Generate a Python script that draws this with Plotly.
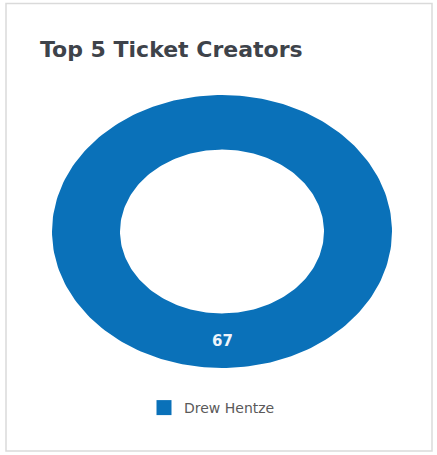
import numpy as np
import plotly.graph_objects as go

# ---- data ----
creators = ["Drew Hentze"]
tickets = [67]
colors = ["#0a71b9"]

W, H = 437, 455
L, R, T, B = 52, 45, 95, 87           # plot area margins (px)
HOLE = 0.6

def px_to_paper_x(px):
    return (px - L) / (W - L - R)

def px_to_paper_y(py):
    return (H - B - py) / (H - T - B)

fig = go.Figure()

total = sum(tickets)
start = 0.0
for name, val, col in zip(creators, tickets, colors):
    frac = val / total
    a0 = np.pi / 2 - 2 * np.pi * start
    a1 = np.pi / 2 - 2 * np.pi * (start + frac)
    th = np.linspace(a0, a1, 241)
    xo, yo = np.cos(th), np.sin(th)
    xi, yi = HOLE * np.cos(th[::-1]), HOLE * np.sin(th[::-1])
    xs = np.concatenate([xo, xi, xo[:1]])
    ys = np.concatenate([yo, yi, yo[:1]])
    fig.add_trace(go.Scatter(x=xs, y=ys, mode="lines", fill="toself",
                             fillcolor=col, line=dict(color=col, width=0),
                             showlegend=False, hoverinfo="skip"))
    mid = np.pi / 2 - 2 * np.pi * (start + frac / 2)
    rmid = (1 + HOLE) / 2
    fig.add_annotation(x=rmid * np.cos(mid), y=rmid * np.sin(mid),
                       text=str(val), showarrow=False,
                       font=dict(family="DejaVu Sans", size=15, color="#eef4fa", weight="bold"))
    fig.add_trace(go.Scatter(x=[None], y=[None], mode="markers", name=name,
                             marker=dict(symbol="square", size=15, color=col)))
    start += frac

fig.add_shape(type="rect", xref="paper", yref="paper",
              x0=px_to_paper_x(6), x1=px_to_paper_x(432),
              y0=px_to_paper_y(451), y1=px_to_paper_y(3.5),
              line=dict(color="#dadada", width=1.5), layer="below")

fig.update_layout(
    width=W, height=H, autosize=False,
    margin=dict(l=L, r=R, t=T, b=B),
    paper_bgcolor="white", plot_bgcolor="white",
    xaxis=dict(range=[-1, 1], visible=False, fixedrange=True),
    yaxis=dict(range=[-1, 1], visible=False, fixedrange=True),
    title=dict(text="Top 5 Ticket Creators", x=40 / W, xanchor="left",
               xref="container", y=1 - 42 / H, yanchor="top", yref="container",
               font=dict(family="DejaVu Sans", size=22, color="#3e434a", weight="bold")),
    legend=dict(orientation="h", x=px_to_paper_x(212), xanchor="center",
                y=px_to_paper_y(408), yanchor="middle",
                font=dict(family="DejaVu Sans", size=14, color="#5a5a5a"),
                itemwidth=30),
    showlegend=True,
)

fig.write_html("out.html", config={"displayModeBar": False},
               post_script="document.body.style.margin='0';document.body.style.overflow='hidden';")
